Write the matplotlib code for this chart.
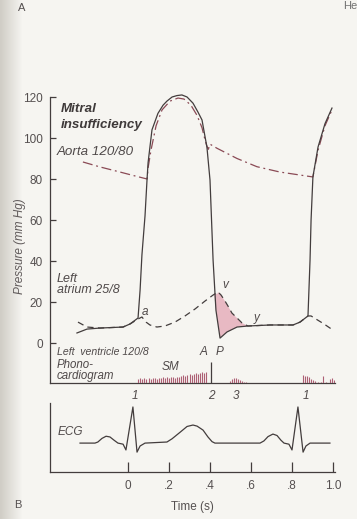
import numpy as np
import matplotlib
matplotlib.use("Agg")
import matplotlib.pyplot as plt
from matplotlib import font_manager as fm
from matplotlib.transforms import blended_transform_factory

# ---------------- data ----------------
# Left ventricular pressure (time s, mm Hg)
lv_t = [-0.249, -0.200, -0.137, -0.024, 0.010, 0.049, 0.059, 0.068, 0.083, 0.093,
        0.098, 0.107, 0.117, 0.146, 0.171, 0.190, 0.215, 0.239, 0.263, 0.288,
        0.317, 0.341, 0.361, 0.376, 0.385, 0.400, 0.415, 0.429, 0.449, 0.483,
        0.532, 0.585, 0.693, 0.805, 0.839, 0.878, 0.888, 0.893, 0.902, 0.927,
        0.961, 0.995]
lv_p = [4.9, 6.8, 7.3, 7.8, 9.3, 12.2, 25.9, 43.0, 62.0, 80.0,
        88.0, 95.6, 104.0, 112.0, 116.0, 118.0, 120.0, 120.7, 121.0, 120.0,
        117.0, 112.7, 108.8, 100.5, 95.6, 79.5, 40.5, 16.0, 2.4, 5.4,
        7.8, 8.3, 8.8, 8.8, 10.2, 13.2, 40.5, 60.0, 81.0, 95.6,
        107.0, 114.6]

# Aortic pressure
ao_t = [-0.220, -0.137, -0.039, 0.034, 0.093, 0.098, 0.112, 0.137, 0.166, 0.205,
        0.244, 0.273, 0.307, 0.337, 0.361, 0.376, 0.385, 0.392, 0.400, 0.434,
        0.532, 0.629, 0.741, 0.902, 0.927, 0.961, 0.995]
ao_p = [88.3, 85.9, 83.4, 81.5, 80.0, 85.4, 94.0, 106.0, 113.7, 118.0,
        119.5, 119.0, 116.0, 111.0, 105.0, 99.0, 96.0, 94.5, 97.0, 95.0,
        90.0, 86.0, 83.4, 81.0, 94.0, 106.0, 113.7]

# Left atrial pressure
la_t = [-0.244, -0.200, -0.137, -0.024, 0.010, 0.049, 0.068, 0.088, 0.107, 0.141,
        0.180, 0.229, 0.278, 0.327, 0.376, 0.415, 0.439, 0.454, 0.473, 0.488,
        0.507, 0.532, 0.556, 0.585, 0.693, 0.805, 0.839, 0.878, 0.893, 0.917,
        0.956, 1.000]
la_p = [10.2, 7.8, 7.3, 7.8, 9.3, 11.7, 12.7, 10.2, 8.8, 7.8,
        8.3, 10.2, 13.2, 16.6, 20.5, 23.4, 24.9, 23.4, 20.5, 18.0,
        14.6, 12.2, 9.8, 8.3, 8.8, 8.8, 10.2, 13.2, 13.2, 11.7,
        9.3, 6.3]

# Regurgitant region: atrial v wave down to y descent, back along ventricle
reg_la_t = [0.437, 0.439, 0.454, 0.473, 0.488, 0.507, 0.532, 0.556, 0.585]
reg_la_p = [24.0, 24.9, 23.4, 20.5, 18.0, 14.6, 12.2, 9.8, 8.3]
reg_lv_t = [0.585, 0.532, 0.483, 0.449, 0.429, 0.420]
reg_lv_p = [8.3, 7.8, 5.4, 2.4, 16.0, 24.0]

# Phonocardiogram (amplitude in arbitrary units)
sm_t = [0.05, 0.06, 0.07, 0.08, 0.09, 0.10, 0.11, 0.12, 0.13, 0.14, 0.15,
        0.16, 0.17, 0.18, 0.19, 0.20, 0.21, 0.22, 0.23, 0.24, 0.25,
        0.26, 0.27, 0.28, 0.29, 0.30, 0.31, 0.32, 0.33, 0.34, 0.35, 0.36,
        0.37, 0.38]
sm_h = [4, 5, 4, 5, 4, 5, 4, 5, 5, 4, 5,
        5, 6, 5, 6, 5, 6, 6, 5, 6, 6,
        7, 8, 7, 8, 9, 8, 9, 10, 9, 10, 11,
        10, 11]
s2_t = [0.405]
s2_h = [21]
s3_t = [0.498, 0.507, 0.517, 0.527, 0.537, 0.546, 0.556, 0.566, 0.576]
s3_h = [2, 4, 5, 5, 4, 3, 2, 1, 1]
s1_t = [0.854, 0.863, 0.873, 0.883, 0.893, 0.902, 0.912, 0.927, 0.941, 0.951,
        0.966, 0.985, 0.995, 1.005]
s1_h = [8, 7, 7, 6, 4, 3, 2, 1, 1, 7, 1, 4, 5, 3]

# ECG (relative amplitude)
ecg_t = [-0.234, -0.161, -0.147, -0.127, -0.107, -0.088, -0.068, -0.049, -0.024, -0.010,
         0.024, 0.044, 0.059, 0.083, 0.190, 0.215, 0.254, 0.288, 0.317, 0.337,
         0.366, 0.390, 0.410, 0.424, 0.644, 0.663, 0.683, 0.707, 0.727, 0.746,
         0.761, 0.785, 0.800, 0.829, 0.854, 0.868, 0.888, 0.985]
ecg_v = [0.0, 0.0, 0.03, 0.13, 0.19, 0.17, 0.08, 0.0, -0.03, -0.19,
         1.0, -0.25, -0.08, 0.0, 0.03, 0.12, 0.30, 0.46, 0.50, 0.47,
         0.36, 0.17, 0.04, 0.0, 0.0, 0.06, 0.18, 0.25, 0.21, 0.08,
         0.0, -0.03, -0.19, 1.0, -0.25, -0.08, 0.0, 0.0]

p_ticks = [0, 20, 40, 60, 80, 100, 120]
t_ticks = [0, 0.2, 0.4, 0.6, 0.8, 1.0]
t_labels = ["0", ".2", ".4", ".6", ".8", "1.0"]

# ---------------- style ----------------
names = {f.name for f in fm.fontManager.ttflist}
FONT = "Liberation Sans Narrow" if "Liberation Sans Narrow" in names else "Liberation Sans"
plt.rcParams["font.family"] = [FONT, "DejaVu Sans"]

INK = "#433d3d"
AORTA = "#8a4a55"
PHONO = "#ad5f74"
SHADE = "#e8b9c3"
PAGE = np.array([246, 245, 241]) / 255.0

W, H = 357, 519
fig = plt.figure(figsize=(W / 100, H / 100), dpi=100)

# page background with darker gutter on the left edge
bg = fig.add_axes([0, 0, 1, 1], zorder=-10)
xs = np.arange(W)
shade = np.clip(xs / 22.0, 0, 1)
edge = np.array([208, 205, 198]) / 255.0
row = edge[None, :] * (1 - shade[:, None]) + PAGE[None, :] * shade[:, None]
bg.imshow(np.repeat(row[None, :, :], H, axis=0), aspect="auto", extent=[0, 1, 0, 1])
bg.set_axis_off()

XL = ((50 - 128) / 205, (335 - 128) / 205)


def frac_x(px):
    return px / W


def frac_y(py):
    return 1 - py / H


# ---------------- pressure panel ----------------
ax = fig.add_axes([frac_x(50), frac_y(383), (335 - 50) / W, (383 - 97) / H])
ax.patch.set_alpha(0)
ax.set_xlim(*XL)
ax.set_ylim(-19.5, 120)
for s in ("top", "right"):
    ax.spines[s].set_visible(False)
for s in ("left", "bottom"):
    ax.spines[s].set_color(INK)
    ax.spines[s].set_linewidth(0.9)
ax.set_xticks([])
ax.set_yticks(p_ticks)
ax.tick_params(axis="y", direction="in", length=4, width=0.9, color=INK,
               labelsize=8.5, labelcolor="#555050", pad=5)
ax.set_ylabel("Pressure (mm Hg)", fontsize=8.5, style="italic", color="#605a5a")
ax.yaxis.set_label_coords(-0.085, 0.48)

ax.fill(reg_la_t + reg_lv_t, reg_la_p + reg_lv_p, color=SHADE, lw=0, zorder=1)
ax.plot(ao_t, ao_p, color=AORTA, lw=0.9, dashes=(8, 3, 1.5, 3), clip_on=False, zorder=2)
ax.plot(la_t, la_p, color=INK, lw=0.9, dashes=(5, 3.5), clip_on=False, zorder=3)
ax.plot(lv_t, lv_p, color=INK, lw=0.9, clip_on=False, zorder=4)

tc = "#4f4949"
ax.text(-0.327, 114.0, "Mitral", fontsize=9.6, weight="bold", style="italic",
        color="#3f3a3a", va="center")
ax.text(-0.327, 106.3, "insufficiency", fontsize=9.6, weight="bold", style="italic",
        color="#3f3a3a", va="center")
ax.text(-0.346, 93.2, "Aorta 120/80", fontsize=9.6, style="italic", color=tc, va="center")
ax.text(-0.346, 31.2, "Left", fontsize=9, style="italic", color=tc, va="center")
ax.text(-0.346, 25.9, "atrium 25/8", fontsize=9, style="italic", color=tc, va="center")
ax.text(-0.346, -4.4, "Left  ventricle 120/8", fontsize=7.6, style="italic", color=tc,
        va="center")
ax.text(-0.346, -10.6, "Phono-", fontsize=8.3, style="italic", color=tc, va="center")
ax.text(-0.346, -16.2, "cardiogram", fontsize=8.3, style="italic", color=tc, va="center")
ax.text(0.205, -11.7, "SM", fontsize=8.5, style="italic", color=tc, va="center", ha="center")
ax.text(0.083, 15.3, "a", fontsize=8.5, style="italic", color=tc, va="center", ha="center")
ax.text(0.473, 28.3, "v", fontsize=8.5, style="italic", color=tc, va="center", ha="center")
ax.text(0.629, 12.2, "y", fontsize=8.5, style="italic", color=tc, va="center", ha="center")
ax.text(0.366, -4.4, "A", fontsize=8.5, style="italic", color=tc, va="center", ha="center")
ax.text(0.449, -4.4, "P", fontsize=8.5, style="italic", color=tc, va="center", ha="center")

# heart sound numbers between the panels
btr = blended_transform_factory(ax.transData, ax.transAxes)
for tx, lab in [(0.034, "1"), (0.405, "2"), (0.527, "3"), (0.868, "1")]:
    ax.text(tx, -0.045, lab, transform=btr, fontsize=8.5, style="italic", color=tc,
            ha="center", va="center")

# ---------------- phonocardiogram ----------------
axp = fig.add_axes([frac_x(50), frac_y(383), (335 - 50) / W, 40 / H])
axp.set_xlim(*XL)
axp.set_ylim(0, 40)
axp.set_axis_off()
for tt, hh in [(sm_t, sm_h), (s3_t, s3_h), (s1_t, s1_h)]:
    axp.vlines(tt, 0, hh, color=PHONO, lw=0.8)
axp.vlines(s2_t, 0, s2_h, color=INK, lw=0.9)

# ---------------- ECG panel ----------------
axe = fig.add_axes([frac_x(50), frac_y(472), (335 - 50) / W, (472 - 403) / H])
axe.patch.set_alpha(0)
axe.set_xlim(*XL)
axe.set_ylim(-0.8, 1.11)
for s in ("top", "right"):
    axe.spines[s].set_visible(False)
for s in ("left", "bottom"):
    axe.spines[s].set_color(INK)
    axe.spines[s].set_linewidth(0.9)
axe.set_yticks([])
axe.set_xticks(t_ticks)
axe.set_xticklabels(t_labels)
axe.tick_params(axis="x", direction="in", length=7, width=0.9, color=INK,
                labelsize=8.5, labelcolor="#555050", pad=6)
axe.set_xlabel("Time (s)", fontsize=8.5, color="#555050", labelpad=6)
axe.plot(ecg_t, ecg_v, color=INK, lw=0.9)
axe.text(-0.341, 0.31, "ECG", fontsize=8.5, style="italic", color=tc, va="center")

# panel letters
fig.text(22 / W, frac_y(8), "A", fontsize=8, color="#555050", ha="center", va="center")
fig.text(18 / W, frac_y(505), "B", fontsize=8, color="#555050", ha="center", va="center")
fig.text(343 / W, frac_y(6), "He", fontsize=8, color="#707070", ha="left", va="center")

fig.savefig("out.png", dpi=100)
